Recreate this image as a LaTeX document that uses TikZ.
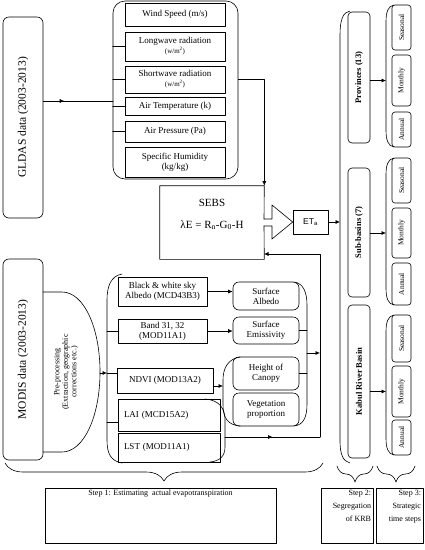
\documentclass[tikz,border=0pt]{standalone}
\usepackage{fontspec}
\setmainfont{Liberation Serif}
\newfontfamily\etafont{Liberation Sans}
\usetikzlibrary{arrows.meta,decorations.pathreplacing,decorations.markings}

\begin{document}
\begin{tikzpicture}[x=1pt,y=-1pt,line join=round,line cap=round,line width=0.6pt,
	>={Latex[length=4.5pt,width=4pt]},
	box/.style={draw,rectangle,inner sep=1pt,align=center,font=\fontsize{9}{10}\selectfont},
	rbox/.style={box,rounded corners=6pt},
	vbox/.style={draw,rectangle,rounded corners=4pt,rotate=90,inner sep=1pt,minimum height=22,font=\bfseries\fontsize{8.5}{10}\selectfont},
	tbox/.style={draw,rectangle,rounded corners=3pt,rotate=90,inner sep=1pt,minimum height=19,font=\fontsize{7.5}{9}\selectfont},
	databox/.style={draw,rectangle,rounded corners=6pt,rotate=90,minimum height=40,font=\fontsize{11.5}{13}\selectfont},
	stepbox/.style={draw,rectangle,minimum height=55},
	steptext/.style={inner sep=2pt,font=\fontsize{8}{13}\selectfont},
	midarrow/.style={postaction={decorate},decoration={markings,mark=at position #1 with {\arrow{>}}}}]
	\useasboundingbox (0,0) rectangle (424,550);
	% GLDAS
	\node[databox,minimum width=201] (gldas) at (23,117.5) {GLDAS data (2003-2013)};
	\node[draw,rounded corners=12pt,minimum width=125,minimum height=178] (gcont) at (175.5,90) {};
	\node[box,minimum width=100,minimum height=23] (wind) at (175,14.5) {Wind Speed (m/s)};
	\node[box,minimum width=100,minimum height=29] (lwave) at (175,46.5) {Longwave radiation\\{\fontsize{7}{8}\selectfont (w/m\textsuperscript{2})}};
	\node[box,minimum width=100,minimum height=27] (swave) at (175,79.5) {Shortwave radiation\\{\fontsize{7}{8}\selectfont (w/m\textsuperscript{2})}};
	\node[box,minimum width=100,minimum height=18] (atemp) at (175,106) {Air Temperature (k)};
	\node[box,minimum width=100,minimum height=21] (apres) at (175,131.5) {Air Pressure (Pa)};
	\node[box,minimum width=100,minimum height=30] (humid) at (175,162) {Specific Humidity\\(kg/kg)};
	\foreach \b in {lwave,swave,atemp,apres} \draw (\b.west) -- (\b.west -| gcont.west);
	\coordinate (gin) at (113,101);
	\draw[midarrow=0.3] (gldas.south |- gin) -- (gin);
	% SEBS
	\node[minimum width=104,minimum height=73] (sebs) at (212,222.5) {};
	\draw (264,219) -- (sebs.north east) -- (sebs.north west) -- (sebs.south west) -- (sebs.south east) -- (264,226);
	\node[font=\fontsize{11}{13}\selectfont] (sebsname) at (212,203) {SEBS};
	\node[font=\fontsize{11}{13}\selectfont] (sebseq) at (212,225) {λE = R\textsubscript{n}-G\textsubscript{0}-H};
	\draw[->] (swave.east -| gcont.east) -| (sebs.north east);
	\node[draw,rectangle,minimum width=35,minimum height=24,inner sep=1pt,font=\etafont\fontsize{8.5}{10}\selectfont] (eta) at (310.5,222) {ET\textsubscript{a}};
	\draw (264,219) -- (272,219) -- (272,205) -- (eta.west) -- (272,239) -- (272,226) -- (264,226);
	\coordinate (rbr) at (340,222);
	\draw[->] (eta.east) -- (rbr);
	% MODIS
	\node[databox,minimum width=201] (modis) at (23,359.5) {MODIS data (2003-2013)};
	\draw (43,292) -- (62,292) .. controls (84,292) and (100,328) .. (100,372) .. controls (100,416) and (84,452) .. (62,452) -- (43,452);
	\node[rotate=90,align=center,inner sep=1pt,font=\fontsize{8}{8.5}\selectfont] (prep) at (66,372) {Pre-processing\\(Extraction, geographic\\corrections etc.)};
	\coordinate (prepout) at (100,373);
	\coordinate (mbr) at (107,373);
	\draw (122,274) .. controls (111,276) and (107,286) .. (107,300) -- (107,440) .. controls (107,454) and (111,461) .. (122,463);
	\node[box,minimum width=89,minimum height=29] (bw) at (162.5,291.5) {Black \& white sky\\Albedo (MCD43B3)};
	\node[box,minimum width=89,minimum height=24] (band) at (162.5,331) {Band 31, 32\\(MOD11A1)};
	\node[box,minimum width=96,minimum height=25] (ndvi) at (165,380.5) {NDVI (MOD13A2)};
	\node[box,minimum width=102,minimum height=32,text width=90,align=left] (lai) at (169,415) {LAI (MCD15A2)};
	\node[box,minimum width=102,minimum height=29,text width=90,align=left] (lst) at (169,447.5) {LST (MOD11A1)};
	\draw[->] (prepout) -- (mbr);
	\draw (mbr) -- (mbr -| ndvi.west);
	\draw (band.west) -- (band.west -| mbr);
	\draw ([yshift=-7pt]lai.west) -- ([yshift=-7pt]lai.west -| mbr);
	\node[rbox,minimum width=66,minimum height=28] (salb) at (266,296) {Surface\\Albedo};
	\node[rbox,minimum width=66,minimum height=27] (semi) at (266,330.5) {Surface\\Emissivity};
	\node[rbox,minimum width=66,minimum height=33] (hcan) at (266,373.5) {Height of\\Canopy};
	\node[rbox,minimum width=66,minimum height=33] (vegp) at (266,409.5) {Vegetation\\proportion};
	\draw[->] (bw.east) -- (bw.east -| salb.west);
	\draw[->] (band.east) -- (band.east -| semi.west);
	% brackets round the products
	\draw (240,357) .. controls (228,359) and (223,368) .. (223,380) -- (223,405) .. controls (223,418) and (228,425) .. (240,426);
	\coordinate (vbr) at (223,386);
	\draw[->] (vbr -| ndvi.east) -- (vbr);
	\draw (294,282) .. controls (303,283) and (307,292) .. (307,305) -- (307,404) .. controls (307,418) and (303,425) .. (294,426);
	\coordinate (sbr) at (307,353);
	\draw (semi.east) -- (semi.east -| sbr);
	\draw (hcan.east) -- (hcan.east -| sbr);
	\draw (205,399) .. controls (219,400) and (225,408) .. (225,420) -- (225,447) .. controls (225,456) and (220,461) .. (210,462);
	\coordinate (llbr) at (225,437);
	\coordinate (retb) at (320,437);
	\coordinate (sebsin) at (264,254);
	\draw[midarrow=0.5] (llbr) -- (retb);
	\draw[->] (retb) |- (sebsin);
	\draw[->] (sbr) -- (sbr -| retb);
	% segregation
	\draw (350,11) .. controls (343,12) and (340,20) .. (340,35) -- (340,440) .. controls (340,455) and (343,461) .. (350,463);
	\node[vbox,minimum width=131] (prov) at (359,77.5) {Provinces (13)};
	\node[vbox,minimum width=129] (subb) at (359,232.5) {Sub-basins (7)};
	\node[vbox,minimum width=153] (krb) at (359,381.5) {Kabul River Basin};
	% time steps
	\node[tbox,minimum width=45] (pseas) at (401.5,27.5) {Seasonal};
	\node[tbox,minimum width=51] (pmon) at (401.5,80.5) {Monthly};
	\node[tbox,minimum width=35] (pann) at (401.5,129.5) {Annual};
	\node[tbox,minimum width=45] (sseas) at (401.5,180.5) {Seasonal};
	\node[tbox,minimum width=50] (smon) at (401.5,233) {Monthly};
	\node[tbox,minimum width=42] (sann) at (401.5,284) {Annual};
	\node[tbox,minimum width=47] (kseas) at (401.5,338.5) {Seasonal};
	\node[tbox,minimum width=51] (kmon) at (401.5,391.5) {Monthly};
	\node[tbox,minimum width=35] (kann) at (401.5,437.5) {Annual};
	\foreach \t/\bt in {5/147,158/305,315/455}
		\draw (394,\t) .. controls (388,\t+1) and (386,\t+7) .. (386,\t+17) -- (386,\bt-17) .. controls (386,\bt-7) and (388,\bt-1) .. (394,\bt);
	\foreach \m/\g in {pmon/prov,smon/subb,kmon/krb}{
		\coordinate (\m br) at (386,0 |- \m.center);
		\draw[->] (\g.south |- \m.center) -- (\m.center -| \m br);
	}
	% steps
	\draw[decorate,decoration={brace,mirror,amplitude=18pt}] (5,463) -- (323,463);
	\draw[decorate,decoration={brace,mirror,amplitude=16pt}] (337,466) -- (373,466);
	\draw[decorate,decoration={brace,mirror,amplitude=16pt}] (377,466) -- (415,466);
	\node[stepbox,minimum width=231] (step1) at (160.5,515.5) {};
	\node[stepbox,minimum width=52] (step2) at (347,515.5) {};
	\node[stepbox,minimum width=47] (step3) at (399.5,515.5) {};
	\node[steptext,anchor=north] (step1t) at (step1.north) {Step 1: Estimating\ \ actual evapotranspiration};
	\node[steptext,anchor=north east,align=right] (step2t) at (step2.north east) {Step 2:\\Segregation\\of KRB};
	\node[steptext,anchor=north east,align=right] (step3t) at (step3.north east) {Step 3:\\Strategic\\time steps};
\end{tikzpicture}
\end{document}
